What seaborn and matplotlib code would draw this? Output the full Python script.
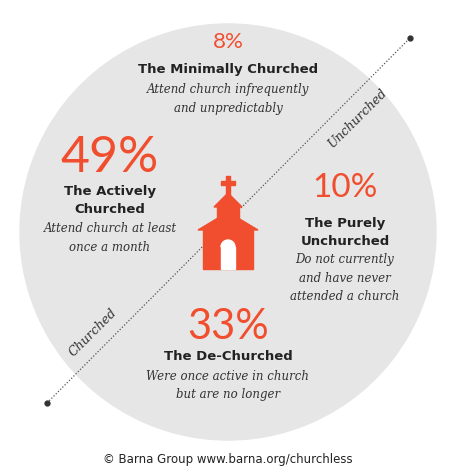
import matplotlib
matplotlib.use("Agg")
import matplotlib.pyplot as plt
import seaborn as sns
from matplotlib.patches import Circle, Polygon, Rectangle, Wedge

sns.set_style("white")
plt.rcParams['font.family'] = ['DejaVu Sans']

groups = ["The Minimally Churched", "The Actively\nChurched", "The Purely\nUnchurched", "The De-Churched"]
percents = [8, 49, 10, 33]
descriptions = ["Attend church infrequently\nand unpredictably",
                "Attend church at least\nonce a month",
                "Do not currently\nand have never\nattended a church",
                "Were once active in church\nbut are no longer"]
RED = "#F04E2E"

fig = plt.figure(figsize=(4.54, 4.71), dpi=100)
ax = fig.add_axes([0, 0, 1, 1])
ax.set_xlim(0, 454); ax.set_ylim(471, 0); ax.axis("off")

ax.add_patch(Circle((228, 232), 208, color="#E6E6E6", zorder=0))
ax.plot([47, 410], [403, 38], ls=(0, (1, 1.5)), color="#555555", lw=0.9, zorder=1)
ax.plot([47, 410], [403, 38], "o", color="#333333", ms=3.5, zorder=2)
ax.text(358, 118, "Unchurched", rotation=45, ha="center", va="center",
        fontsize=9, family="DejaVu Serif", style="italic", color="#333333")
ax.text(93, 333, "Churched", rotation=45, ha="center", va="center",
        fontsize=9, family="DejaVu Serif", style="italic", color="#333333")

# positions: (x, y_pct, pct_size, y_title_first_line, y_desc_first_line)
layout = [(228, 42, 16, 70, 90), (110, 158, 36, 192, 229),
          (345, 188, 24, 224, 260), (228, 327, 30, 356, 376)]
for g, p, d, (x, yp, fs, yt, yd) in zip(groups, percents, descriptions, layout):
    ax.text(x, yp, f"{p}%", ha="center", va="center", fontsize=fs,
            color=RED, family="Lato")
    for i, line in enumerate(g.split("\n")):
        ax.text(x, yt + 17.5 * i, line, ha="center", va="center",
                fontsize=9.5, fontweight="bold", color="#222222")
    for i, line in enumerate(d.split("\n")):
        ax.text(x, yd + 18.5 * i, line, ha="center", va="center", fontsize=8.5,
                style="italic", family="DejaVu Serif", color="#333333")
# church icon
ax.add_patch(Rectangle((226, 176), 4, 20, color=RED))
ax.add_patch(Rectangle((221, 181), 14, 4, color=RED))
ax.add_patch(Polygon([(214, 207), (228, 193), (242, 207)], color=RED))
ax.add_patch(Rectangle((217, 205), 22, 14, color=RED))
ax.add_patch(Polygon([(198, 230), (228, 212), (258, 230)], color=RED))
ax.add_patch(Rectangle((203, 228), 50, 41, color=RED))
ax.add_patch(Rectangle((221, 247), 14, 22, color="white"))
ax.add_patch(Wedge((228, 247), 7, 180, 360, color="white"))

ax.text(228, 460, "© Barna Group www.barna.org/churchless", ha="center", va="center",
        fontsize=8.5, color="#222222")
fig.savefig("out.png", dpi=100)
